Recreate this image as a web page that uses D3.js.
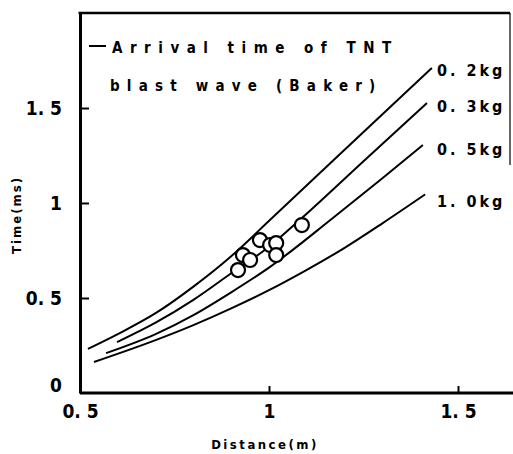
<html>
<head>
<script src="https://cdn.jsdelivr.net/npm/d3@7"></script>
<style>
  body { margin: 0; background: #fff; }
  text { font-family: "DejaVu Sans Condensed", "Liberation Sans", Arial, sans-serif; font-weight: bold; fill: #000; }
</style>
</head>
<body>
<svg id="cont" width="513" height="454"></svg>
<script>
// Baker arrival time curves (distance m, time ms)
var dist02 = [0.521, 0.6, 0.7, 0.8, 0.9, 1.008, 1.2, 1.431];
var time02 = [0.232, 0.31, 0.42, 0.56, 0.72, 0.921, 1.28, 1.711];
var dist03 = [0.598, 0.7, 0.8, 0.9, 1.0, 1.087, 1.25, 1.418];
var time03 = [0.268, 0.37, 0.49, 0.63, 0.77, 0.921, 1.22, 1.526];
var dist05 = [0.569, 0.7, 0.8, 0.9, 1.0, 1.169, 1.3, 1.407];
var time05 = [0.21, 0.31, 0.41, 0.53, 0.66, 0.921, 1.13, 1.305];
var dist10 = [0.537, 0.7, 0.8, 0.9, 1.0, 1.1, 1.2, 1.3, 1.413];
var time10 = [0.163, 0.278, 0.357, 0.445, 0.541, 0.648, 0.764, 0.893, 1.045];
var curveLabels = ["0. 2kg", "0. 3kg", "0. 5kg", "1. 0kg"];

// measured points
var measDist = [0.918, 0.931, 0.950, 0.976, 1.003, 1.019, 1.019, 1.087];
var measTime = [0.647, 0.726, 0.700, 0.805, 0.779, 0.789, 0.726, 0.884];

var xTicks = [0.5, 1, 1.5];
var xTickLabels = ["0. 5", "1", "1. 5"];
var yTicks = [0, 0.5, 1, 1.5];
var yTickLabels = ["0", "0. 5", "1", "1. 5"];

var svg = d3.select("#cont");
var pLeft = 80, pRight = 510, pTop = 13, pBottom = 393;
var fontFam = "'DejaVu Sans Condensed', 'Liberation Sans', Arial, sans-serif";

var x = d3.scaleLinear().domain([0.5, 0.5 + (pRight - pLeft) / 378]).range([pLeft, pRight]);
var y = d3.scaleLinear().domain([0, 2]).range([pBottom, pTop]);

var series = [
  {d: dist02, t: time02, label: curveLabels[0], ly: 70, lx: 437},
  {d: dist03, t: time03, label: curveLabels[1], ly: 106, lx: 437},
  {d: dist05, t: time05, label: curveLabels[2], ly: 149, lx: 437},
  {d: dist10, t: time10, label: curveLabels[3], ly: 201, lx: 437}
];

var line = d3.line()
  .x(d => x(d[0]))
  .y(d => y(d[1]))
  .curve(d3.curveMonotoneX);

svg.selectAll(".curve")
  .data(series)
  .enter()
  .append("path")
  .attr("class", "curve")
  .attr("d", s => line(s.d.map((v, i) => [v, s.t[i]])))
  .attr("fill", "none")
  .attr("stroke", "#000")
  .attr("stroke-width", 2);

svg.selectAll(".clab")
  .data(series)
  .enter()
  .append("text")
  .attr("class", "clab")
  .attr("x", s => s.lx)
  .attr("y", s => s.ly)
  .attr("dy", "0.35em")
  .attr("font-size", 16)
  .attr("letter-spacing", 3)
  .text(s => s.label);

svg.selectAll(".pt")
  .data(measDist.map((v, i) => [v, measTime[i]]))
  .enter()
  .append("circle")
  .attr("class", "pt")
  .attr("cx", d => x(d[0]))
  .attr("cy", d => y(d[1]))
  .attr("r", 7)
  .attr("fill", "#fff")
  .attr("stroke", "#000")
  .attr("stroke-width", 2.2);

// axes with ticks pointing inward
var xAxis = d3.axisBottom(x).tickValues(xTicks).tickSize(-7).tickSizeOuter(0)
  .tickFormat((d, i) => xTickLabels[i]);
var gx = svg.append("g").attr("transform", "translate(0," + pBottom + ")").call(xAxis);
gx.select(".domain").attr("d", "M" + pLeft + ",0H513").attr("stroke-width", 3);
gx.selectAll(".tick line").attr("stroke-width", 2);
gx.selectAll(".tick text").attr("font-size", 19).attr("y", 12).attr("fill", "#000")
  .style("font-family", fontFam);
gx.selectAll(".tick").filter(d => d === 0.5).select("line").remove();

var yAxis = d3.axisLeft(y).tickValues(yTicks).tickSize(-9).tickSizeOuter(0)
  .tickFormat((d, i) => yTickLabels[i]);
var gy = svg.append("g").attr("transform", "translate(" + pLeft + ",0)").call(yAxis);
gy.select(".domain").attr("stroke-width", 3);
gy.selectAll(".tick line").attr("stroke-width", 2);
gy.selectAll(".tick text").attr("font-size", 19).attr("x", -18).attr("fill", "#000")
  .style("font-family", fontFam);
gy.selectAll(".tick").filter(d => d === 0).select("line").remove();
gy.selectAll(".tick").filter(d => d === 0).select("text").attr("dy", "-0.1em");

// top and right border
svg.append("line").attr("x1", pLeft - 1.5).attr("x2", pRight).attr("y1", pTop).attr("y2", pTop)
  .attr("stroke", "#000").attr("stroke-width", 2.6);
svg.append("line").attr("x1", pRight).attr("x2", pRight).attr("y1", pTop).attr("y2", 165)
  .attr("stroke", "#000").attr("stroke-width", 1.2);

// legend
svg.append("line").attr("x1", 89).attr("x2", 106).attr("y1", 46).attr("y2", 46)
  .attr("stroke", "#000").attr("stroke-width", 2);
svg.append("text").attr("x", 112).attr("y", 53).attr("font-size", 15).attr("letter-spacing", 7.5)
  .text("Arrival time of TNT");
svg.append("text").attr("x", 110).attr("y", 91).attr("font-size", 15).attr("letter-spacing", 7.2)
  .text("blast wave (Baker)");

// axis titles
svg.append("text").attr("x", 265).attr("y", 449).attr("text-anchor", "middle")
  .attr("font-size", 13).attr("letter-spacing", 2.5).text("Distance(m)");
svg.append("text").attr("transform", "translate(21,215) rotate(-90)").attr("text-anchor", "middle")
  .attr("font-size", 13).attr("letter-spacing", 2).text("Time(ms)");
</script>
</body>
</html>
